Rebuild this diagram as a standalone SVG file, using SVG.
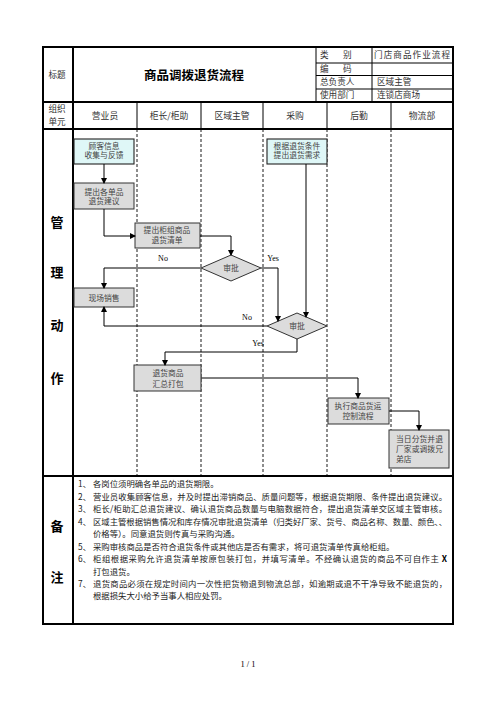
<svg xmlns="http://www.w3.org/2000/svg" width="496" height="702" viewBox="0 0 496 702">
<style>
.thick{stroke:#000;stroke-width:2;fill:none}
.thin{stroke:#000;stroke-width:1;fill:none}
.lane{stroke:#000;stroke-width:0.9;stroke-dasharray:3,2;fill:none}
.t{font-family:"Noto Sans CJK SC","Noto Sans",sans-serif;fill:#333}
.h{font-size:8.6px}
.col{font-size:8.8px;text-anchor:middle}
.big{font-size:13px;font-weight:bold;fill:#000;text-anchor:middle}
.title{font-size:12.5px;font-weight:bold;fill:#000;text-anchor:middle}
.note{font-size:8.4px;fill:#222}
.bx{font-size:7.8px;text-anchor:middle;fill:#444}
.bxl{font-size:7.8px;text-anchor:start;fill:#444}
.lbl{font-family:"Liberation Serif",serif;font-size:8px;fill:#000;text-anchor:middle}
.cyan{fill:#dff7f7;stroke:#222;stroke-width:1.1}
.gray{fill:#dcdcdc;stroke:#333;stroke-width:1}
.conn{stroke:#000;stroke-width:1;fill:none;marker-end:url(#ah)}
</style>
<defs>
<marker id="ah" markerWidth="6" markerHeight="6" refX="5" refY="3" orient="auto" markerUnits="userSpaceOnUse">
<path d="M0,0 L6,3 L0,6 Z" fill="#000"/>
</marker>
</defs>
<rect width="496" height="702" fill="#fff"/>
<g id="table">
<rect x="43" y="47" width="410" height="577" class="thick"/>
<line x1="73" y1="47" x2="73" y2="624" class="thick"/>
<line x1="316" y1="47" x2="316" y2="102" class="thin"/>
<line x1="372" y1="47" x2="372" y2="102" class="thin"/>
<line x1="316" y1="63" x2="453" y2="63" class="thin"/>
<line x1="316" y1="75.5" x2="453" y2="75.5" class="thin"/>
<line x1="316" y1="89" x2="453" y2="89" class="thin"/>
<line x1="43" y1="102" x2="453" y2="102" class="thick"/>
<line x1="137" y1="102" x2="137" y2="129" class="thin"/>
<line x1="201" y1="102" x2="201" y2="129" class="thin"/>
<line x1="263" y1="102" x2="263" y2="129" class="thin"/>
<line x1="327" y1="102" x2="327" y2="129" class="thin"/>
<line x1="391" y1="102" x2="391" y2="129" class="thin"/>
<line x1="43" y1="129" x2="453" y2="129" class="thick"/>
<line x1="137" y1="129" x2="137" y2="476" class="lane"/>
<line x1="201" y1="129" x2="201" y2="476" class="lane"/>
<line x1="263" y1="129" x2="263" y2="476" class="lane"/>
<line x1="327" y1="129" x2="327" y2="476" class="lane"/>
<line x1="391" y1="129" x2="391" y2="476" class="lane"/>
<line x1="43" y1="476" x2="453" y2="476" class="thick"/>
<text x="57" y="78" class="t h" text-anchor="middle">标题</text>
<text x="194" y="80" class="t title">商品调拨退货流程</text>
<text x="320" y="58" class="t h">类</text><text x="343" y="58" class="t h">别</text>
<text x="320" y="72" class="t h">编</text><text x="343" y="72" class="t h">码</text>
<text x="320" y="85" class="t h">总负责人</text>
<text x="320" y="98" class="t h">使用部门</text>
<text x="374" y="58" class="t h" textLength="76" lengthAdjust="spacing">门店商品作业流程</text>
<text x="377" y="85" class="t h">区域主管</text>
<text x="377" y="98" class="t h">连锁店商场</text>
<text x="57" y="112" class="t h" text-anchor="middle">组织</text>
<text x="57" y="125" class="t h" text-anchor="middle">单元</text>
<text x="105" y="119" class="t col">营业员</text>
<text x="169" y="119" class="t col">柜长/柜助</text>
<text x="232" y="119" class="t col">区域主管</text>
<text x="295" y="119" class="t col">采购</text>
<text x="359" y="119" class="t col">后勤</text>
<text x="422" y="119" class="t col">物流部</text>
<text x="57" y="227" class="t big">管</text>
<text x="57" y="277" class="t big">理</text>
<text x="57" y="330" class="t big">动</text>
<text x="57" y="383" class="t big">作</text>
<text x="57" y="531" class="t big">备</text>
<text x="57" y="582" class="t big">注</text>
<g class="t note">
<text x="78" y="487">1、</text><text x="93" y="487">各岗位须明确各单品的退货期限。</text>
<text x="78" y="499.5">2、</text><text x="93" y="499.5" textLength="354" lengthAdjust="spacing">营业员收集顾客信息，并及时提出滞销商品、质量问题等，根据退货期限、条件提出退货建议。</text>
<text x="78" y="512">3、</text><text x="93" y="512" textLength="354" lengthAdjust="spacing">柜长/柜助汇总退货建议、确认退货商品数量与电脑数据符合，提出退货清单交区域主管审核。</text>
<text x="78" y="524.5">4、</text><text x="93" y="524.5" textLength="354" lengthAdjust="spacing">区域主管根据销售情况和库存情况审批退货清单（归类好厂家、货号、商品名称、数量、颜色、、</text>
<text x="93" y="537">价格等）。同意退货则传真与采购沟通。</text>
<text x="78" y="549.5">5、</text><text x="93" y="549.5">采购审核商品是否符合退货条件或其他店是否有需求，将可退货清单传真给柜组。</text>
<text x="78" y="562">6、</text><text x="93" y="562" textLength="354" lengthAdjust="spacing">柜组根据采购允许退货清单按原包装打包，并填写清单。不经确认退货的商品不可自作主 <tspan font-weight="bold" fill="#000">X</tspan></text>
<text x="93" y="574.5">打包退货。</text>
<text x="78" y="587">7、</text><text x="93" y="587" textLength="354" lengthAdjust="spacing">退货商品必须在规定时间内一次性把货物退到物流总部，如逾期或退不干净导致不能退货的，</text>
<text x="93" y="599">根据损失大小给予当事人相应处罚。</text>
</g>
<text x="248" y="667" font-family="Liberation Serif,serif" font-size="8.5" text-anchor="middle" fill="#000">1 / 1</text>
</g>
<g id="n1"><rect x="74" y="139" width="60" height="25" class="cyan"/><text x="104" y="148.5" class="t bx">顾客信息</text><text x="104" y="158" class="t bx">收集与反馈</text></g>
<g id="n2"><rect x="74" y="183" width="60" height="26" class="gray"/><text x="104" y="194.5" class="t bx">提出各单品</text><text x="104" y="204" class="t bx">退货建议</text></g>
<g id="n3"><rect x="135" y="223" width="65" height="25" class="gray"/><text x="167" y="233" class="t bx">提出柜组商品</text><text x="167" y="243" class="t bx">退货清单</text></g>
<g id="n4"><rect x="267" y="139" width="60" height="25" class="cyan"/><text x="297" y="148.5" class="t bx">根据退货条件</text><text x="297" y="158" class="t bx">提出退货需求</text></g>
<g id="n5"><path d="M201,268 L231,255 L261,268 L231,281 Z" class="gray"/><text x="231" y="271" class="t bx">审批</text></g>
<g id="n6"><rect x="74" y="288" width="60" height="19" class="gray"/><text x="104" y="300.5" class="t bx">现场销售</text></g>
<g id="n7"><path d="M267,326 L297,313 L327,326 L297,339 Z" class="gray"/><text x="297" y="329" class="t bx">审批</text></g>
<g id="n8"><rect x="134" y="365" width="67" height="26" class="gray"/><text x="168" y="376" class="t bx">退货商品</text><text x="168" y="387" class="t bx">汇总打包</text></g>
<g id="n9"><rect x="328" y="398" width="61" height="26" class="gray"/><text x="358" y="409" class="t bx">执行商品货运</text><text x="358" y="418.5" class="t bx">控制流程</text></g>
<g id="n10"><rect x="389" y="430" width="60" height="38" class="gray"/><text x="396" y="442" class="t bxl" textLength="47" lengthAdjust="spacing">当日分货并退</text><text x="396" y="452" class="t bxl" textLength="47" lengthAdjust="spacing">厂家或调拨兄</text><text x="396" y="461.5" class="t bxl">弟店</text></g>
<g id="connectors">
<path d="M104,164 V183" class="conn"/>
<path d="M104,209 V236 H135" class="conn"/>
<path d="M200,236 H231 V255" class="conn"/>
<path d="M306,164 V317" class="conn"/>
<path d="M201,268 H104 V288" class="conn"/>
<path d="M261,268 H278 V321" class="conn"/>
<path d="M267,326 H104 V307" class="conn"/>
<path d="M297,339 V352 H165 V365" class="conn"/>
<path d="M201,378 H358 V398" class="conn"/>
<path d="M389,411 H419 V430" class="conn"/>
<text x="163" y="261" class="lbl">No</text>
<text x="273" y="261" class="lbl">Yes</text>
<text x="247" y="320" class="lbl">No</text>
<text x="258" y="346" class="lbl">Yes</text>
</g>
</svg>
